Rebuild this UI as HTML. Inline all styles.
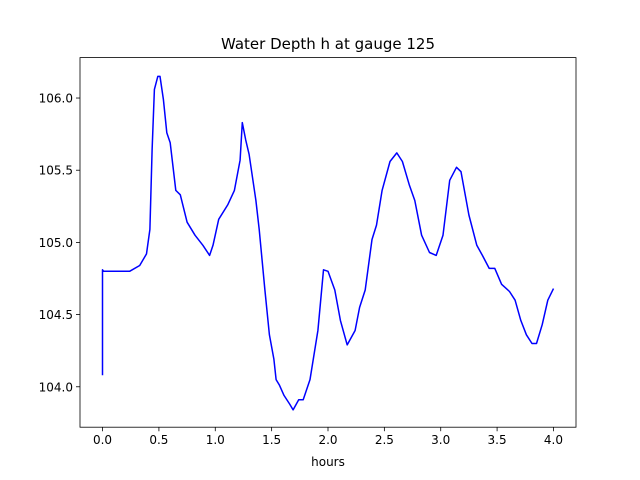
<!DOCTYPE html>
<html><head><meta charset="utf-8"><style>
body{margin:0;background:#fff;}
svg{display:block;font-family:"DejaVu Sans","Liberation Sans",sans-serif;}
</style></head><body>
<svg id="chart" width="640" height="480">
<rect x="0" y="0" width="640" height="480" fill="#fff"/>
<text x="328" y="49" text-anchor="middle" font-size="15">Water Depth h at gauge 125</text>
<g id="plot"></g>
<text x="328" y="466" text-anchor="middle" font-size="12">hours</text>
</svg>
<script>
const times=[0,0,0.01,0.24,0.33,0.39,0.42,0.44,0.46,0.49,0.51,0.54,0.57,0.60,0.65,0.69,0.75,0.82,0.89,0.95,0.98,1.03,1.11,1.17,1.22,1.24,1.27,1.30,1.36,1.39,1.44,1.48,1.52,1.54,1.57,1.61,1.66,1.69,1.74,1.78,1.84,1.91,1.96,2.00,2.06,2.11,2.17,2.24,2.28,2.33,2.39,2.43,2.48,2.55,2.61,2.66,2.72,2.77,2.83,2.90,2.96,3.02,3.08,3.14,3.18,3.25,3.32,3.37,3.43,3.48,3.54,3.61,3.66,3.71,3.76,3.81,3.85,3.90,3.95,4.00];
const depths=[104.08,104.81,104.80,104.80,104.84,104.92,105.09,105.64,106.06,106.15,106.15,105.99,105.76,105.69,105.36,105.33,105.14,105.05,104.98,104.91,104.98,105.16,105.26,105.36,105.57,105.83,105.71,105.61,105.29,105.09,104.67,104.36,104.19,104.05,104.01,103.94,103.88,103.84,103.91,103.91,104.05,104.39,104.81,104.80,104.67,104.46,104.29,104.39,104.55,104.67,105.02,105.12,105.36,105.56,105.62,105.56,105.40,105.29,105.05,104.93,104.91,105.05,105.43,105.52,105.49,105.19,104.98,104.91,104.82,104.82,104.71,104.66,104.60,104.46,104.36,104.30,104.30,104.43,104.60,104.68];
const xTicks=[0.0,0.5,1.0,1.5,2.0,2.5,3.0,3.5,4.0];
const yTicks=[104.0,104.5,105.0,105.5,106.0];
const L=80,R=576,T=57.6,B=427.2;
const xmin=-0.2,xmax=4.2,ymin=103.72,ymax=106.28;
const sx=v=>L+(v-xmin)/(xmax-xmin)*(R-L);
const sy=v=>B-(v-ymin)/(ymax-ymin)*(B-T);
const NS='http://www.w3.org/2000/svg';
const g=document.getElementById('plot');
function mk(t,a){const e=document.createElementNS(NS,t);for(const k in a)e.setAttribute(k,a[k]);g.appendChild(e);return e;}
const pts=times.map((t,i)=>sx(t).toFixed(1)+','+sy(depths[i]).toFixed(1)).join(' ');
const line=mk('polyline',{points:pts,fill:'none',stroke:'#0000ff','stroke-width':1.5,'stroke-linejoin':'round'});


xTicks.forEach(v=>{
  const x=sx(v);
  const tk=mk('line',{x1:x,x2:x,y1:B,y2:B+4,stroke:'#000','stroke-width':0.8});
  
  
  const tx=mk('text',{x:x,y:B+17,'text-anchor':'middle','font-size':12});
  tx.textContent=v.toFixed(1);
  
  
});
yTicks.forEach(v=>{
  const y=sy(v);
  const tk=mk('line',{x1:L-4,x2:L,y1:y,y2:y,stroke:'#000','stroke-width':0.8});
  
  
  const tx=mk('text',{x:L-7,y:y+4.5,'text-anchor':'end','font-size':12});
  tx.textContent=v.toFixed(1);
  
  
});
const fr=mk('rect',{x:L,y:T,width:R-L,height:B-T,fill:'none',stroke:'#000','stroke-width':0.8});


</script>
</body></html>
